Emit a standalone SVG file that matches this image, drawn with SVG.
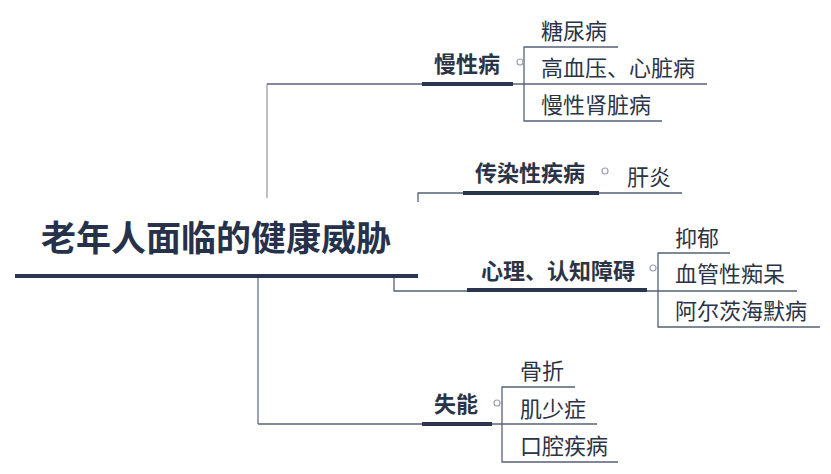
<svg xmlns="http://www.w3.org/2000/svg" width="831" height="474" viewBox="0 0 831 474">
<style>
.root{font-family:"Noto Sans CJK SC","Noto Sans",sans-serif;font-size:35px;font-weight:bold;fill:#27324a}
.main{font-family:"Noto Sans CJK SC","Noto Sans",sans-serif;font-size:22px;font-weight:bold;fill:#2b3446}
.sub{font-family:"Noto Sans CJK SC","Noto Sans",sans-serif;font-size:22px;fill:#2b3446}
.thin{stroke:#566178;stroke-width:1.3;fill:none}
.trunk{stroke:#7d8494;stroke-width:1.5;fill:none}
.trunkl{stroke:#a8abb3;stroke-width:1.5;fill:none}
.thick{stroke:#2a3550;stroke-width:4;fill:none}
.dot{fill:#fff;stroke:#9aa0aa;stroke-width:1.2}
</style>
<rect width="831" height="474" fill="#fff"/>
<g id="connectors">
<path class="trunkl" d="M267,84 V198"/>
<path class="thin" d="M267,84 H707"/>
<path class="trunk" d="M258,277 V424"/>
<path class="thin" d="M258,424 H597"/>
<path class="thin" d="M418,202 V193 H682"/>
<path class="thin" d="M394,278 V291 H797"/>
<path class="thin" d="M618,47 H524 V121 H662"/>
<path class="thin" d="M730,253 H658 V327 H820"/>
<path class="thin" d="M575,387 H502 V462 H618"/>
</g>
<g id="root">
<text class="root" x="216" y="250.5" text-anchor="middle">老年人面临的健康威胁</text>
<path class="thick" d="M15,276 H418"/>
</g>
<g id="n1">
<text class="main" x="434" y="71.5">慢性病</text>
<path class="thick" d="M422,84 H513"/>
<circle class="dot" cx="520" cy="62" r="3"/>
</g>
<g id="n1c1"><text class="sub" x="541" y="38.5">糖尿病</text></g>
<g id="n1c2"><text class="sub" x="541" y="76">高血压、心脏病</text></g>
<g id="n1c3"><text class="sub" x="541" y="112.5">慢性肾脏病</text></g>
<g id="n2">
<text class="main" x="475" y="180.5">传染性疾病</text>
<path class="thick" d="M463,193 H599"/>
<circle class="dot" cx="605" cy="171" r="3"/>
</g>
<g id="n2c1"><text class="sub" x="627" y="184.5">肝炎</text></g>
<g id="n3">
<text class="main" x="481" y="278.5">心理、认知障碍</text>
<path class="thick" d="M467,290 H647"/>
<circle class="dot" cx="653" cy="268" r="3"/>
</g>
<g id="n3c1"><text class="sub" x="675" y="245.5">抑郁</text></g>
<g id="n3c2"><text class="sub" x="675" y="281.5">血管性痴呆</text></g>
<g id="n3c3"><text class="sub" x="675" y="318.5">阿尔茨海默病</text></g>
<g id="n4">
<text class="main" x="434" y="411.5">失能</text>
<path class="thick" d="M422,424 H492"/>
<circle class="dot" cx="497" cy="403" r="3"/>
</g>
<g id="n4c1"><text class="sub" x="520" y="378.5">骨折</text></g>
<g id="n4c2"><text class="sub" x="520" y="416.5">肌少症</text></g>
<g id="n4c3"><text class="sub" x="520" y="453.5">口腔疾病</text></g>
</svg>
